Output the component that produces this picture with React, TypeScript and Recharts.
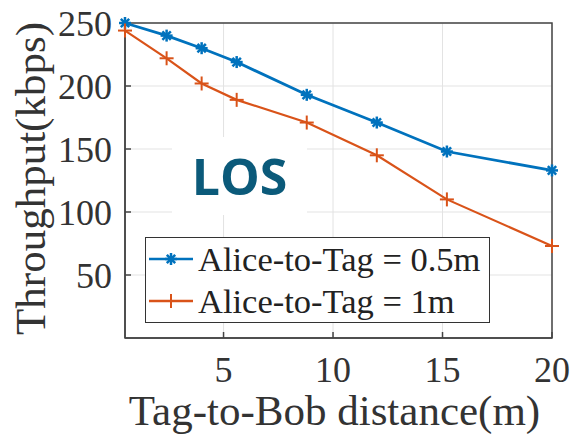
import React from 'react';
import {
  LineChart, Line, XAxis, YAxis, CartesianGrid, Legend, ReferenceArea,
} from 'recharts';

// Tag-to-Bob distance (m)
const distances = [0.5, 2.4, 4, 5.6, 8.8, 12, 15.2, 20];
// throughput (kbps)
const halfMeter = [250, 240, 230, 219, 193, 171, 148, 133];
const oneMeter = [244, 222, 202, 189, 171, 145, 110, 73];
const xTicks = [5, 10, 15, 20];
const yTicks = [50, 100, 150, 200, 250];

const BLUE = '#0072BD';
const ORANGE = '#D95319';
const FONT = '"Liberation Serif", "Times New Roman", serif';

const data = distances.map((d, i) => ({ d, a: halfMeter[i], b: oneMeter[i] }));

const StarDot = ({ cx, cy }: any) => {
  const r = 6;
  const q = r * 0.7;
  return (
    <g stroke={BLUE} strokeWidth={2.5}>
      <line x1={cx - r} y1={cy} x2={cx + r} y2={cy} />
      <line x1={cx} y1={cy - r} x2={cx} y2={cy + r} />
      <line x1={cx - q} y1={cy - q} x2={cx + q} y2={cy + q} />
      <line x1={cx - q} y1={cy + q} x2={cx + q} y2={cy - q} />
    </g>
  );
};

const PlusDot = ({ cx, cy }: any) => {
  const r = 7;
  return (
    <g stroke={ORANGE} strokeWidth={2}>
      <line x1={cx - r} y1={cy} x2={cx + r} y2={cy} />
      <line x1={cx} y1={cy - r} x2={cx} y2={cy + r} />
    </g>
  );
};

const LegendBox = () => (
  <div style={{
    border: '1.5px solid #333', background: '#fff', fontFamily: FONT, fontSize: 34.5,
    color: '#222', padding: '0 4px 0 2px', lineHeight: '42px', width: 345, boxSizing: 'border-box',
  }}>
    {[{ c: BLUE, t: 'Alice-to-Tag = 0.5m', s: 'star' }, { c: ORANGE, t: 'Alice-to-Tag = 1m', s: 'plus' }].map(e => (
      <div key={e.t} style={{ display: 'flex', alignItems: 'center', whiteSpace: 'nowrap' }}>
        <svg width={46} height={20} style={{ marginRight: 4 }}>
          <line x1={1} y1={10} x2={45} y2={10} stroke={e.c} strokeWidth={2.5} />
          {e.s === 'star' ? <StarDot cx={23} cy={10} /> : <PlusDot cx={23} cy={10} />}
        </svg>
        <span>{e.t}</span>
      </div>
    ))}
  </div>
);

const YTitle = ({ viewBox }: any) => {
  const x = 30;
  const y = viewBox.y + viewBox.height / 2 - 2;
  return (
    <text x={x} y={y} transform={`rotate(-90, ${x}, ${y})`} textAnchor="middle" dominantBaseline="central"
      fontFamily={FONT} fontSize={43} fill="#333">Throughput(kbps)</text>
  );
};

const XTitle = ({ viewBox }: any) => (
  <text x={viewBox.x + viewBox.width / 2 - 4} y={425} textAnchor="middle"
    fontFamily={FONT} fontSize={43} fill="#333">Tag-to-Bob distance(m)</text>
);

export default function App() {
  return (
    <div style={{ position: 'fixed', left: 0, top: 0, width: 574, height: 442, background: '#fff' }}>
      <LineChart width={574} height={442} data={data} margin={{ top: 23, right: 22, left: 65, bottom: 54 }}>
        <CartesianGrid stroke="#e3e3e3" strokeWidth={1} />
        <XAxis
          dataKey="d" type="number" domain={[0.5, 20]} ticks={xTicks} height={50}
          tick={{ fontSize: 36, fill: '#333', fontFamily: FONT }}
          axisLine={{ stroke: '#444', strokeWidth: 1.5 }}
          tickLine={{ stroke: '#444', strokeWidth: 1.5 }} tickSize={-6} tickMargin={24}
          label={<XTitle />}
        />
        <YAxis
          type="number" domain={[0, 250]} ticks={yTicks} width={60} interval={0}
          tick={{ fontSize: 36, fill: '#333', fontFamily: FONT }}
          axisLine={{ stroke: '#444', strokeWidth: 1.5 }}
          tickLine={{ stroke: '#444', strokeWidth: 1.5 }} tickSize={-6} tickMargin={19}
          label={<YTitle />}
        />
        <ReferenceArea x1={0.5} x2={20} y1={0} y2={250} fill="none" stroke="#444" strokeWidth={1.5} ifOverflow="visible" />
        <Legend
          layout="horizontal" verticalAlign="middle" align="center" content={<LegendBox />}
          wrapperStyle={{ left: 145, top: 237, width: 345 }}
        />
        <Line dataKey="a" stroke={BLUE} strokeWidth={2.8} dot={<StarDot />} isAnimationActive={false} />
        <Line dataKey="b" stroke={ORANGE} strokeWidth={2.2} dot={<PlusDot />} isAnimationActive={false} />
      </LineChart>
      <div style={{
        position: 'absolute', left: 172, top: 137, width: 135, height: 78, background: '#fff',
        display: 'flex', alignItems: 'center', justifyContent: 'center',
        fontFamily: '"Open Sans", sans-serif', fontWeight: 700, fontSize: 50, color: '#0b5a7a',
      }}>LOS</div>
    </div>
  );
}
